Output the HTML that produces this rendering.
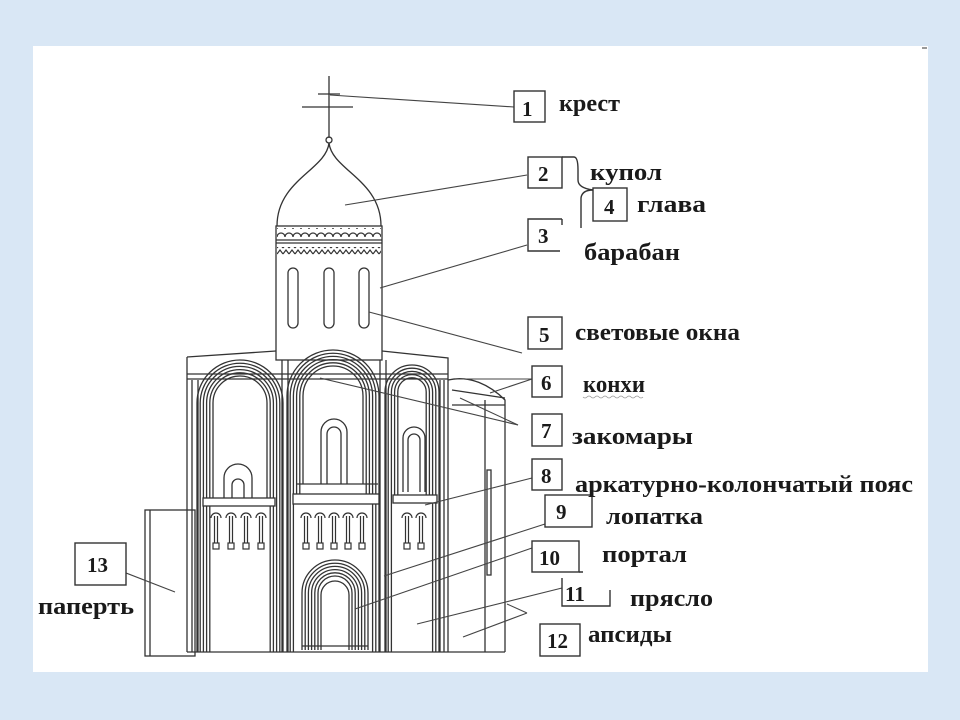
<!DOCTYPE html>
<html><head><meta charset="utf-8"><style>
html,body{margin:0;padding:0;width:960px;height:720px;overflow:hidden;background:#dce9f6}
svg{display:block}
text{font-family:"Liberation Serif",serif;font-weight:bold;fill:#1a1a1a}
</style></head><body>
<svg width="960" height="720" xmlns="http://www.w3.org/2000/svg">
<defs>
<pattern id="zig" x="277" y="249" width="6" height="6" patternUnits="userSpaceOnUse">
<path d="M0 5 L3 1 L6 5" fill="none" stroke="#333" stroke-width="1.2"/>
</pattern>
<pattern id="scl" x="277" y="230" width="8" height="8" patternUnits="userSpaceOnUse">
<path d="M0 7 A4 4 0 0 1 8 7" fill="none" stroke="#333" stroke-width="1.2"/>
</pattern>
<g id="col" fill="none" stroke="#333" stroke-width="1.2">
<path d="M-5 518 A5 5 0 0 1 5 518"/>
<path d="M-1.5 516 V543 M1.5 516 V543"/>
<rect x="-3" y="543" width="6" height="6"/>
</g>
</defs>
<rect x="0" y="0" width="960" height="720" fill="#d9e7f5"/>
<rect x="33" y="46" width="895" height="626" fill="#fff"/>
<rect x="277" y="228" width="104" height="10" fill="url(#scl)"/>
<rect x="277" y="247" width="104" height="8" fill="url(#zig)"/>
<g fill="none" stroke="#333" stroke-width="1.3">
<line x1="329" y1="76" x2="329" y2="138"/>
<line x1="318" y1="94" x2="340" y2="94"/>
<line x1="302" y1="107" x2="353" y2="107"/>
<circle cx="329" cy="140" r="3"/>
<path d="M277 226 C277 180 326 170 329 143 C332 170 381 180 381 226"/>
<rect x="276" y="226" width="106" height="134"/>
<line x1="276" y1="240" x2="382" y2="240"/>
<line x1="276" y1="243" x2="382" y2="243"/>
<rect x="288" y="268" width="10" height="60" rx="5"/>
<rect x="324" y="268" width="10" height="60" rx="5"/>
<rect x="359" y="268" width="10" height="60" rx="5"/>
<polyline points="187,357 276,351"/>
<polyline points="382,351 448,358 448,652"/>
<line x1="187" y1="357" x2="187" y2="652"/>
<line x1="187" y1="374" x2="448" y2="374"/>
<line x1="187" y1="379" x2="448" y2="379"/>
<line x1="187" y1="652" x2="505" y2="652"/>
<path d="M448 380 C470 375 490 385 505 400 L505 652"/>
<path d="M452 390 L505 398"/>
<line x1="485" y1="400" x2="485" y2="652"/>
<rect x="487" y="470" width="4" height="105"/>
<line x1="452" y1="405" x2="505" y2="405"/>
<rect x="145" y="510" width="50" height="146"/>
<line x1="150" y1="510" x2="150" y2="656"/>
<path d="M192 380 V652 M198 380 V652 M282 360 V652 M288 360 V652 M380 360 V652 M386 360 V652 M440 380 V652 M444 380 V652"/>
<path d="M197 652 V403 A43 43 0 0 1 283 403 V652"/>
<path d="M200.2 652 V403 A39.8 39.8 0 0 1 279.8 403 V652"/>
<path d="M203.4 652 V403 A36.6 36.6 0 0 1 276.6 403 V652"/>
<path d="M206.6 652 V403 A33.4 33.4 0 0 1 273.4 403 V652"/>
<path d="M209.8 652 V403 A30.2 30.2 0 0 1 270.2 403 V652"/>
<path d="M213 498 V403 A27 27 0 0 1 267 403 V498"/>
<path d="M287 652 V396 A46 46 0 0 1 379 396 V652"/>
<path d="M290.2 652 V396 A42.8 42.8 0 0 1 375.8 396 V652"/>
<path d="M293.4 652 V396 A39.6 39.6 0 0 1 372.6 396 V652"/>
<path d="M296.6 494 V396 A36.4 36.4 0 0 1 369.4 396 V494"/>
<path d="M299.8 494 V396 A33.2 33.2 0 0 1 366.2 396 V494"/>
<path d="M303 484 V396 A30 30 0 0 1 363 396 V484"/>
<path d="M385 652 V392 A27 27 0 0 1 439 392 V652"/>
<path d="M388.2 652 V392 A23.8 23.8 0 0 1 435.8 392 V652"/>
<path d="M391.4 652 V392 A20.6 20.6 0 0 1 432.6 392 V652"/>
<path d="M394.6 495 V392 A17.4 17.4 0 0 1 429.4 392 V495"/>
<path d="M397.8 495 V392 A14.2 14.2 0 0 1 426.2 392 V495"/>
<rect x="203" y="498" width="72" height="8" fill="#fff"/>
<rect x="293" y="494" width="86" height="10" fill="#fff"/>
<rect x="393" y="495" width="44" height="8" fill="#fff"/>
<path d="M224 498 V478 A14 14 0 0 1 252 478 V498"/>
<path d="M232 498 V485 A6 6 0 0 1 244 485 V498"/>
<path d="M321 484 V432 A13 13 0 0 1 347 432 V484"/>
<path d="M327 484 V434 A7 7 0 0 1 341 434 V484"/>
<line x1="296" y1="484" x2="378" y2="484"/>
<path d="M403 492 V438 A11 11 0 0 1 425 438 V492"/>
<path d="M408 492 V440 A6 6 0 0 1 420 440 V492"/>
<path d="M302 650 V593 A33 33 0 0 1 368 593 V650" fill="#fff"/>
<path d="M305.2 650 V593 A29.8 29.8 0 0 1 364.8 593 V650"/>
<path d="M308.4 650 V593 A26.6 26.6 0 0 1 361.6 593 V650"/>
<path d="M311.6 650 V593 A23.4 23.4 0 0 1 358.4 593 V650"/>
<path d="M314.8 650 V593 A20.2 20.2 0 0 1 355.2 593 V650"/>
<path d="M318 650 V593 A17 17 0 0 1 352 593 V650"/>
<path d="M321 650 V595 A14 14 0 0 1 349 595 V650"/>
<line x1="302" y1="646" x2="368" y2="646"/>
</g>
<use href="#col" x="216"/><use href="#col" x="231"/><use href="#col" x="246"/><use href="#col" x="261"/>
<use href="#col" x="306"/><use href="#col" x="320"/><use href="#col" x="334"/><use href="#col" x="348"/><use href="#col" x="362"/>
<use href="#col" x="407"/><use href="#col" x="421"/>
<g stroke="#444" stroke-width="1.1">
<line x1="330" y1="95" x2="514" y2="107"/>
<line x1="345" y1="205" x2="527" y2="175"/>
<line x1="380" y1="288" x2="527" y2="245"/>
<line x1="369" y1="312" x2="522" y2="353"/>
<line x1="455" y1="379" x2="532" y2="379"/>
<line x1="490" y1="393" x2="532" y2="379"/>
<line x1="320" y1="378" x2="518" y2="425"/>
<line x1="460" y1="398" x2="518" y2="425"/>
<line x1="425" y1="505" x2="532" y2="478"/>
<line x1="384" y1="576" x2="545" y2="524"/>
<line x1="355" y1="609" x2="532" y2="548"/>
<line x1="417" y1="624" x2="562" y2="588"/>
<line x1="463" y1="637" x2="527" y2="613"/>
<line x1="507" y1="604" x2="527" y2="613"/>
<line x1="126" y1="573" x2="175" y2="592"/>
</g>
<g fill="none" stroke="#333" stroke-width="1.4">
<rect x="514" y="91" width="31" height="31"/>
<rect x="528" y="157" width="34" height="31"/>
<rect x="593" y="188" width="34" height="33"/>
<path d="M562 219 H528 V251 H560"/>
<path d="M562 157 H574 Q578 157 578 170 V180 Q578 188 593 190"/>
<path d="M593 190 Q582 190 581 198 V228"/>
<path d="M562 219 V225"/>
<rect x="528" y="317" width="34" height="32"/>
<rect x="532" y="366" width="30" height="31"/>
<rect x="532" y="414" width="30" height="32"/>
<rect x="532" y="459" width="30" height="31"/>
<rect x="545" y="495" width="47" height="32"/>
<rect x="532" y="541" width="47" height="31"/>
<path d="M579 572 H583 M562 578 V606 H610 V590"/>
<rect x="540" y="624" width="40" height="32"/>
<rect x="75" y="543" width="51" height="42"/>
</g>
<g font-size="21">
<text x="522" y="116">1</text>
<text x="538" y="181">2</text>
<text x="604" y="214">4</text>
<text x="538" y="243">3</text>
<text x="539" y="342">5</text>
<text x="541" y="390">6</text>
<text x="541" y="438">7</text>
<text x="541" y="483">8</text>
<text x="556" y="519">9</text>
<text x="539" y="565">10</text>
<text x="565" y="601">11</text>
<text x="547" y="648">12</text>
<text x="87" y="572">13</text>
</g>
<g font-size="24">
<text x="559" y="111" textLength="61" lengthAdjust="spacingAndGlyphs">крест</text>
<text x="590" y="180" textLength="72" lengthAdjust="spacingAndGlyphs">купол</text>
<text x="637" y="212" textLength="69" lengthAdjust="spacingAndGlyphs">глава</text>
<text x="584" y="260" textLength="96" lengthAdjust="spacingAndGlyphs">барабан</text>
<text x="575" y="340" textLength="165" lengthAdjust="spacingAndGlyphs">световые окна</text>
<text x="583" y="392" textLength="62" lengthAdjust="spacingAndGlyphs">конхи</text>
<text x="572" y="444" textLength="121" lengthAdjust="spacingAndGlyphs">закомары</text>
<text x="575" y="492" textLength="338" lengthAdjust="spacingAndGlyphs">аркатурно-колончатый пояс</text>
<text x="606" y="524" textLength="97" lengthAdjust="spacingAndGlyphs">лопатка</text>
<text x="602" y="562" textLength="85" lengthAdjust="spacingAndGlyphs">портал</text>
<text x="630" y="606" textLength="83" lengthAdjust="spacingAndGlyphs">прясло</text>
<text x="588" y="642" textLength="84" lengthAdjust="spacingAndGlyphs">апсиды</text>
<text x="38" y="614" textLength="96" lengthAdjust="spacingAndGlyphs">паперть</text>
</g>
<path d="M583 397 q2 2 4 0 t4 0 t4 0 t4 0 t4 0 t4 0 t4 0 t4 0 t4 0 t4 0 t4 0 t4 0 t4 0 t4 0 t4 0" fill="none" stroke="#999" stroke-width="0.8"/>
<line x1="922" y1="48" x2="927" y2="48" stroke="#333"/>
</svg>
</body></html>
